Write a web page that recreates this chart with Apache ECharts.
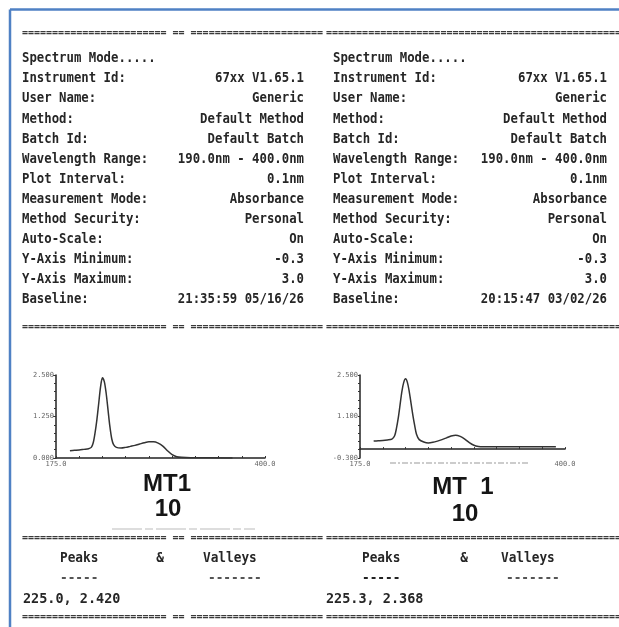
<!DOCTYPE html>
<html><head><meta charset="utf-8">
<script src="https://cdn.jsdelivr.net/npm/echarts@6/dist/echarts.min.js"></script>
<style>html,body{margin:0;padding:0;background:#fff}#c{width:619px;height:627px}</style>
</head><body><div id="c"></div>
<script>
// ---- header info ----
const infoLabels = ['Spectrum Mode.....','Instrument Id:','User Name:','Method:','Batch Id:','Wavelength Range:','Plot Interval:','Measurement Mode:','Method Security:','Auto-Scale:','Y-Axis Minimum:','Y-Axis Maximum:','Baseline:'];
const infoValuesLeft = ['','67xx V1.65.1','Generic','Default Method','Default Batch','190.0nm - 400.0nm','0.1nm','Absorbance','Personal','On','-0.3','3.0','21:35:59 05/16/26'];
const infoValuesRight = ['','67xx V1.65.1','Generic','Default Method','Default Batch','190.0nm - 400.0nm','0.1nm','Absorbance','Personal','On','-0.3','3.0','20:15:47 03/02/26'];
const sampleLeft = ['MT1','10'];
const sampleRight = ['MT  1','10'];
const peakLeft = '225.0, 2.420';
const peakRight = '225.3, 2.368';

// ---- spectra ----
const wlLeft  = [190,195,200,205,210,213,215,217,219,221,223,225,227,229,231,233,235,237,240,245,250,255,260,265,270,275,280,285,290,295,300,305,310,320,340,365];
const absLeft = [0.22,0.23,0.24,0.26,0.28,0.32,0.45,0.75,1.15,1.65,2.15,2.42,2.30,1.95,1.45,0.95,0.58,0.40,0.32,0.30,0.32,0.35,0.38,0.42,0.46,0.49,0.49,0.45,0.36,0.22,0.10,0.04,0.02,0.01,0.01,0.00];
const wlRight  = [190,195,200,205,210,213,215,217,219,221,223,225,227,229,231,233,235,237,240,245,250,255,260,265,270,275,280,285,290,295,300,305,310,330,350,370,390];
const absRight = [0.27,0.28,0.29,0.31,0.34,0.45,0.70,1.05,1.50,1.95,2.25,2.37,2.25,1.95,1.55,1.15,0.80,0.50,0.32,0.24,0.21,0.23,0.27,0.32,0.38,0.44,0.47,0.43,0.34,0.22,0.13,0.09,0.08,0.08,0.08,0.08,0.08];

// ---- axes ----
const xRange = [175, 400];
const xLabelValues = [175, 400];
const xTickValues = [175,200,225,250,275,300,325,350,375,400];
const yLeftRange = [0, 2.5];
const yLeftLabels = [0, 1.25, 2.5];
const yRightRange = [-0.3, 2.5];
const yRightLabels = [-0.3, 1.1, 2.5];
const yRightTicks = [-0.3,-0.02,0.26,0.54,0.82,1.1,1.38,1.66,1.94,2.22,2.5];

const FONT = '"DejaVu Sans Mono", monospace';
const BODY = 'bold 14.5px ' + FONT;
const SX = 0.85;
const INK = '#262626';
const g = [];
function txt(x, y, s, align, opts) {
  opts = opts || {};
  g.push({type:'text', x:x, y:y, scaleX: opts.sx || SX, z: 10,
    style:{text:s, font:(opts.font || BODY), fill: opts.fill || INK,
      align:align, textAlign:align, verticalAlign:'middle', textVerticalAlign:'middle'}});
}
function line(x1,y1,x2,y2,stroke,w,dash){
  g.push({type:'line', shape:{x1,y1,x2,y2}, z:5, style:{stroke, lineWidth:w, lineDash:dash||null}});
}
// blue frame
line(10,9.5,619,9.5,'#4f81c4',2.5);
line(10,9.5,10,627,'#4f81c4',2.5);
// separators
const sepL = '='.repeat(24)+' '+'=='+' '+'='.repeat(22);
const sepR = '='.repeat(52);
[33, 327, 538, 617].forEach(y => {
  txt(22, y, sepL, 'left', {font:'bold 10px ' + FONT, fill:'#3a3a3a', sx:1});
  txt(326, y, sepR, 'left', {font:'bold 10px ' + FONT, fill:'#3a3a3a', sx:1});
});
// header rows
infoLabels.forEach((lab, i) => {
  const y = 58.5 + 20.1 * i;
  txt(22, y, lab, 'left');
  txt(333, y, lab, 'left');
  if (infoValuesLeft[i]) txt(304, y, infoValuesLeft[i], 'right');
  if (infoValuesRight[i]) txt(607, y, infoValuesRight[i], 'right');
});
// sample names
const big = 'bold 24px "Liberation Sans", Arial, sans-serif';
txt(167, 484, sampleLeft[0], 'center', {font:big, fill:'#151515', sx:1});
txt(168, 509, sampleLeft[1], 'center', {font:big, fill:'#151515', sx:1});
txt(463, 487, sampleRight[0], 'center', {font:big, fill:'#151515', sx:1});
txt(465, 514, sampleRight[1], 'center', {font:big, fill:'#151515', sx:1});
line(112,529,255,529,'#bbb',1,[30,3,8,3]);
line(390,463,530,463,'#999',1.2,[6,2,2,2]);
// peaks & valleys
txt(60, 558, 'Peaks', 'left', {sx:0.88});
txt(160, 558, '&', 'center', {sx:0.88});
txt(203, 558, 'Valleys', 'left', {sx:0.88});
txt(60, 578, '-----', 'left', {sx:0.88, fill:'#555'});
txt(208, 578, '-------', 'left', {sx:0.88, fill:'#555'});
txt(23, 599, peakLeft, 'left', {sx:0.93});
txt(362, 558, 'Peaks', 'left', {sx:0.88});
txt(464, 558, '&', 'center', {sx:0.88});
txt(501, 558, 'Valleys', 'left', {sx:0.88});
txt(362, 578, '-----', 'left', {sx:0.88, fill:'#222'});
txt(506, 578, '-------', 'left', {sx:0.88, fill:'#555'});
txt(326, 599, peakRight, 'left', {sx:0.93});

const axLine = {show:true, lineStyle:{color:'#222', width:1.5}};
const lblStyle = {fontSize:7, color:'#666', fontFamily:FONT};
function xAx(idx){
  return {type:'value', gridIndex:idx, min:xRange[0], max:xRange[1], axisLine:axLine, splitLine:{show:false},
    axisTick:{show:true, customValues:xTickValues, length:2, inside:true, lineStyle:{color:'#333'}},
    axisLabel:Object.assign({customValues:xLabelValues, margin:3, formatter:v=>v.toFixed(1)}, lblStyle)};
}
const option = {
  animation:false,
  backgroundColor:'#fff',
  grid:[{left:56, top:375, width:209, height:83}, {left:360, top:375, width:205, height:83}],
  xAxis:[xAx(0), xAx(1)],
  yAxis:[
    {type:'value', gridIndex:0, min:yLeftRange[0], max:yLeftRange[1], interval:1.25, axisLine:axLine, splitLine:{show:false},
     axisTick:{show:true, length:3, lineStyle:{color:'#333'}}, minorTick:{show:true, splitNumber:5, length:2, lineStyle:{color:'#333'}},
     axisLabel:Object.assign({margin:2, formatter:v=>v.toFixed(3)}, lblStyle)},
    {type:'value', gridIndex:1, min:yRightRange[0], max:yRightRange[1], axisLine:axLine, splitLine:{show:false},
     axisTick:{show:true, length:2, customValues:yRightTicks, lineStyle:{color:'#333'}},
     axisLabel:Object.assign({margin:2, customValues:yRightLabels, formatter:v=>v.toFixed(3)}, lblStyle)}
  ],
  series:[
    {type:'line', xAxisIndex:0, yAxisIndex:0, data:wlLeft.map((w,i)=>[w,absLeft[i]]), showSymbol:false, smooth:0.3,
     lineStyle:{color:'#333', width:1.5}},
    {type:'line', xAxisIndex:1, yAxisIndex:1, data:wlRight.map((w,i)=>[w,absRight[i]]), showSymbol:false, smooth:0.3,
     lineStyle:{color:'#333', width:1.5}}
  ],
  graphic:g
};
const chart = echarts.init(document.getElementById('c'), null, {renderer:'canvas'});
chart.setOption(option);
</script></body></html>
